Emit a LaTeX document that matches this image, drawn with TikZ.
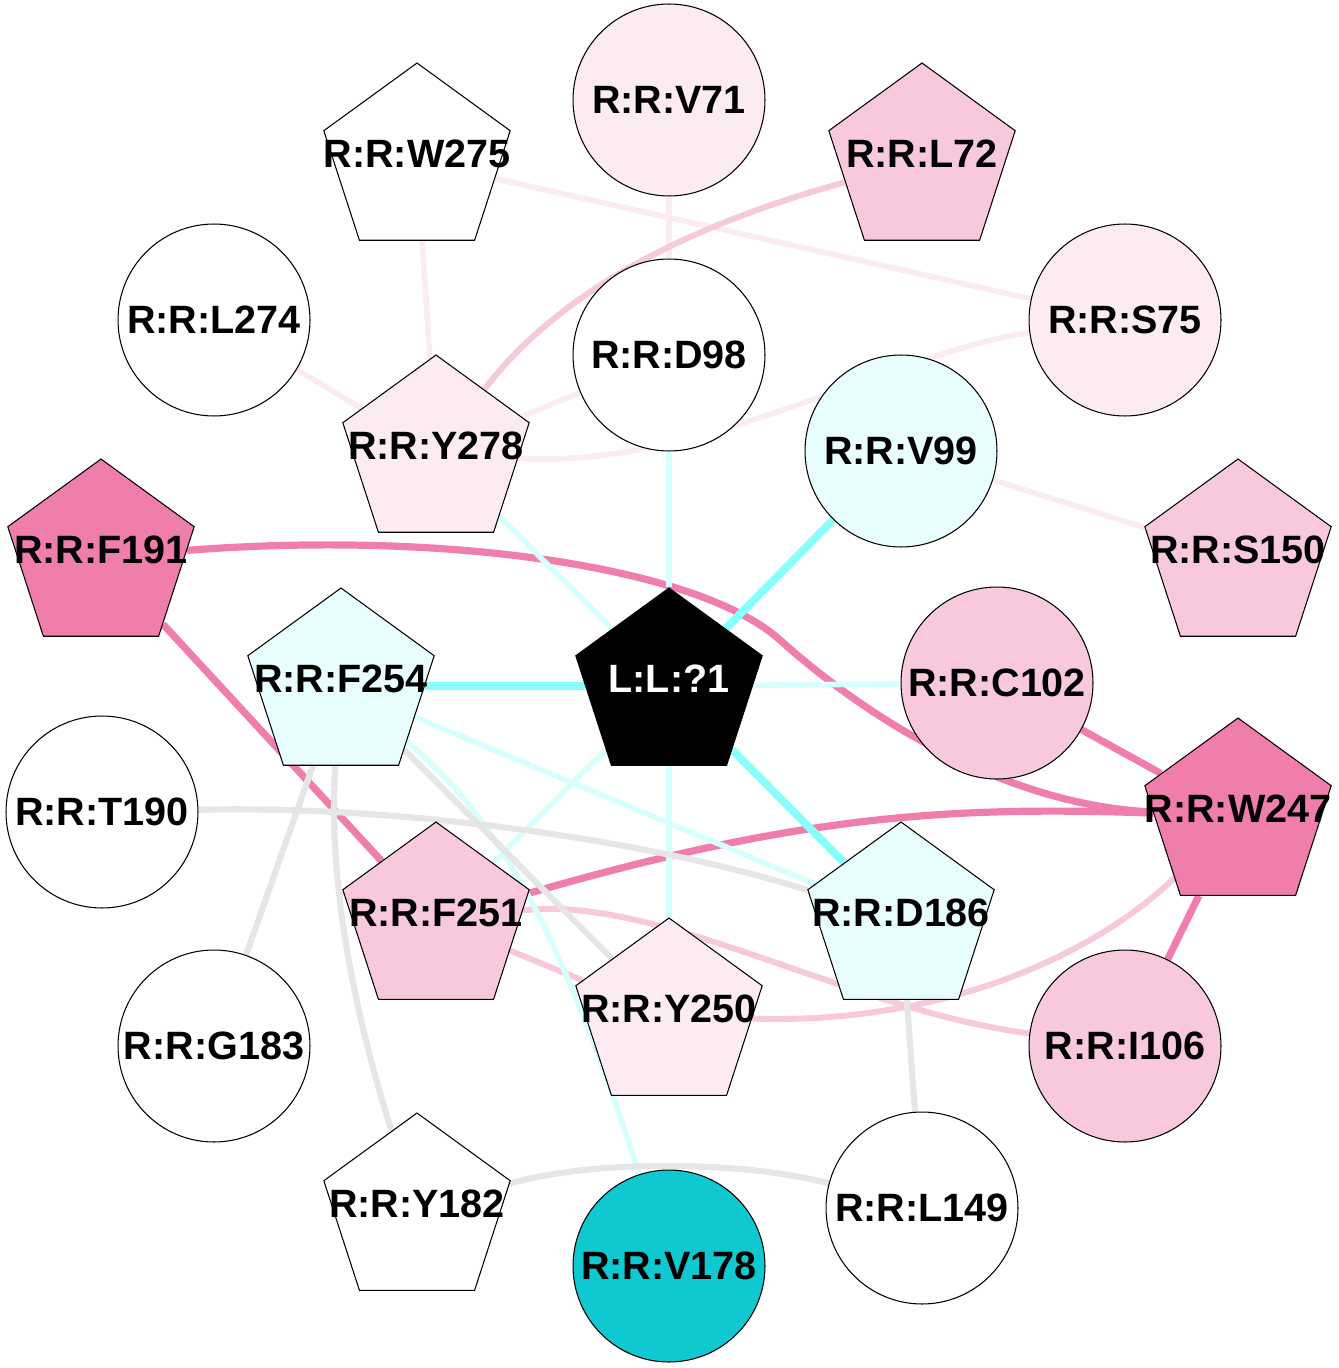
\documentclass[tikz,border=0pt]{standalone}
\usepackage{fontspec}
\setmainfont{Liberation Sans}
\usetikzlibrary{shapes.geometric, backgrounds}
\definecolor{hotpink}{RGB}{240, 126, 172}
\definecolor{midpink}{RGB}{248, 200, 220}
\definecolor{palepink}{RGB}{252, 235, 242}
\definecolor{palecyan}{RGB}{232, 254, 254}
\definecolor{ligcyan}{RGB}{16, 200, 208}
\definecolor{linecyan}{RGB}{136, 255, 255}
\definecolor{linepalecyan}{RGB}{216, 255, 255}
\definecolor{linegray}{RGB}{230, 230, 230}

\begin{document}
\begin{tikzpicture}[x=0.02cm, y=-0.02cm,
  res/.style={circle, draw, fill=white, line width=0.6pt, minimum size=3.84cm, inner sep=0pt,
    font=\fontsize{22.5}{26}\selectfont\bfseries},
  pent/.style={regular polygon, regular polygon sides=5, draw, fill=white, line width=0.6pt,
    minimum size=3.92cm, inner sep=0pt},
  plbl/.style={font=\fontsize{22.5}{26}\selectfont\bfseries, yshift=0.14cm},
  ppink/.style={draw=palepink, line width=3.2pt},
  mpink/.style={draw=midpink, line width=3.4pt},
  hpink/.style={draw=hotpink, line width=4.1pt},
  cyanline/.style={draw=linecyan, line width=4.5pt},
  pcyan/.style={draw=linepalecyan, line width=3.2pt},
  grayline/.style={draw=linegray, line width=3.5pt}]
  \useasboundingbox (0,0) rectangle (1338,1368);

  % residues drawn as circles
  \node[res, fill=palepink] (v71) at (669,100) {R:R:V71};
  \node[res] (l274) at (214,320) {R:R:L274};
  \node[res] (d98) at (669,355) {R:R:D98};
  \node[res, fill=palepink] (s75) at (1125,320) {R:R:S75};
  \node[res, fill=palecyan] (v99) at (901,451) {R:R:V99};
  \node[res, fill=midpink] (c102) at (997,683) {R:R:C102};
  \node[res] (t190) at (102,812) {R:R:T190};
  \node[res] (g183) at (214,1046) {R:R:G183};
  \node[res, fill=midpink] (i106) at (1125,1046) {R:R:I106};
  \node[res] (l149) at (922,1208) {R:R:L149};
  \node[res, fill=ligcyan] (v178) at (669,1266) {R:R:V178};

  % residues drawn as pentagons
  \node[pent, label={[plbl]center:{R:R:W275}}] (w275) at (417,161) {};
  \node[pent, fill=midpink, label={[plbl]center:{R:R:L72}}] (l72) at (922,161) {};
  \node[pent, fill=palepink, label={[plbl]center:{R:R:Y278}}] (y278) at (436,453) {};
  \node[pent, fill=hotpink, label={[plbl]center:{R:R:F191}}] (f191) at (101,557) {};
  \node[pent, fill=midpink, label={[plbl]center:{R:R:S150}}] (s150) at (1238,557) {};
  \node[pent, fill=palecyan, label={[plbl]center:{R:R:F254}}] (f254) at (341,686) {};
  \node[pent, fill=black, label={[plbl, text=white]center:{L:L:?1}}] (lig) at (669,686) {};
  \node[pent, fill=hotpink, label={[plbl]center:{R:R:W247}}] (w247) at (1238,816) {};
  \node[pent, fill=midpink, label={[plbl]center:{R:R:F251}}] (f251) at (436,920) {};
  \node[pent, fill=palecyan, label={[plbl]center:{R:R:D186}}] (d186) at (901,920) {};
  \node[pent, fill=palepink, label={[plbl]center:{R:R:Y250}}] (y250) at (669,1016) {};
  \node[pent, label={[plbl]center:{R:R:Y182}}] (y182) at (417,1211) {};

  \begin{scope}[on background layer]
    % pale pink contacts
    \draw[ppink] (w275) -- (y278);
    \draw[ppink] (w275) -- (s75);
    \draw[ppink] (v71) -- (d98);
    \draw[ppink] (l274) -- (y278);
    \draw[ppink] (d98) -- (y278);
    \draw[ppink] (v99) -- (s150);
    \draw[ppink] (s75) .. controls (900,350) and (700,470) .. (y278);
    % pink contacts
    \draw[mpink] (l72) .. controls (690,225) and (560,290) .. (y278);
    \draw[mpink] (f251) -- (y250);
    \draw[mpink] (w247) .. controls (1100,950) and (950,1025) .. (y250);
    \draw[mpink] (f251) .. controls (660,895) and (850,1010) .. (i106);
    % strong pink contacts
    \draw[hpink] (f191) -- (f251);
    \draw[hpink] (c102) -- (w247);
    \draw[hpink] (w247) -- (i106);
    \draw[hpink] (f191) .. controls (450,530) and (700,568) .. (780,640)
      .. controls (860,712) and (1000,805) .. (w247);
    \draw[hpink] (f251) .. controls (800,815) and (950,806) .. (w247);
    % ligand contacts
    \draw[cyanline] (v99) -- (lig);
    \draw[cyanline] (f254) -- (lig);
    \draw[cyanline] (lig) -- (d186);
    \draw[pcyan] (y278) -- (lig);
    \draw[pcyan] (d98) -- (lig);
    \draw[pcyan] (c102) -- (lig);
    \draw[pcyan] (lig) -- (y250);
    \draw[pcyan] (lig) -- (f251);
    \draw[pcyan] (f254) -- (d186);
    \draw[pcyan] (f254) .. controls (500,820) and (560,930) .. (v178);
    % gray contacts
    \draw[grayline] (f254) -- (g183);
    \draw[grayline] (f254) -- (y250);
    \draw[grayline] (d186) -- (l149);
    \draw[grayline] (t190) .. controls (400,805) and (650,840) .. (d186);
    \draw[grayline] (f254) .. controls (328,870) and (350,1000) .. (y182);
    \draw[grayline] (y182) .. controls (590,1160) and (740,1160) .. (l149);
  \end{scope}
\end{tikzpicture}
\end{document}
